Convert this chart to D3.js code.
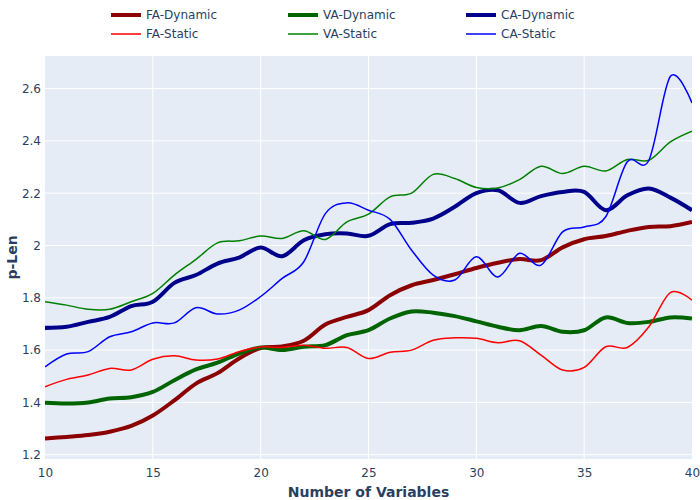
<!DOCTYPE html>
<html lang="en">
  <head>
    <meta charset="UTF-8" />
    <title>p-Len</title>
    <script src="https://cdn.jsdelivr.net/npm/d3@7"></script>
    <style>
      body { margin: 0; background: #fff; }
      text { font-family: "DejaVu Sans", Verdana, sans-serif; }
    </style>
  </head>
  <body>
    <svg width="700" height="500"></svg>
  </body>

  <script>
    var variables = d3.range(10, 41); // 10 .. 40
    var xTicks = [10, 15, 20, 25, 30, 35, 40];
    var yTicks = [1.2, 1.4, 1.6, 1.8, 2.0, 2.2, 2.4, 2.6];

    var faDynamic = [1.262, 1.268, 1.275, 1.288, 1.31, 1.35, 1.408, 1.472, 1.512, 1.568, 1.608,
      1.614, 1.636, 1.698, 1.727, 1.753, 1.81, 1.848, 1.868, 1.89, 1.914,
      1.934, 1.948, 1.944, 1.993, 2.024, 2.036, 2.056, 2.071, 2.074, 2.09];
    var vaDynamic = [1.399, 1.396, 1.4, 1.415, 1.42, 1.44, 1.485, 1.526, 1.552, 1.587, 1.61,
      1.6, 1.613, 1.619, 1.657, 1.676, 1.721, 1.748, 1.743, 1.73, 1.71,
      1.689, 1.676, 1.692, 1.67, 1.676, 1.725, 1.704, 1.708, 1.725, 1.721];
    var caDynamic = [1.685, 1.689, 1.708, 1.727, 1.768, 1.785, 1.857, 1.887, 1.931, 1.954, 1.992,
      1.959, 2.02, 2.043, 2.046, 2.037, 2.082, 2.087, 2.103, 2.148, 2.2,
      2.211, 2.163, 2.189, 2.205, 2.205, 2.135, 2.192, 2.218, 2.183, 2.135];
    var faStatic = [1.46, 1.488, 1.505, 1.53, 1.524, 1.565, 1.578, 1.562, 1.566, 1.594, 1.612,
      1.61, 1.619, 1.607, 1.61, 1.568, 1.592, 1.6, 1.638, 1.647, 1.645,
      1.628, 1.636, 1.581, 1.524, 1.534, 1.613, 1.61, 1.689, 1.82, 1.791];
    var vaStatic = [1.785, 1.772, 1.756, 1.756, 1.785, 1.817, 1.887, 1.947, 2.01, 2.018, 2.036,
      2.027, 2.056, 2.023, 2.09, 2.12, 2.186, 2.2, 2.272, 2.256, 2.222,
      2.22, 2.252, 2.303, 2.275, 2.303, 2.285, 2.329, 2.326, 2.396, 2.437];
    var caStatic = [1.536, 1.585, 1.594, 1.651, 1.67, 1.704, 1.704, 1.762, 1.738, 1.753, 1.805,
      1.874, 1.938, 2.122, 2.163, 2.135, 2.1, 1.982, 1.887, 1.868, 1.957,
      1.88, 1.97, 1.925, 2.052, 2.071, 2.11, 2.32, 2.326, 2.647, 2.545];

    var seriesNames = ['FA-Dynamic', 'VA-Dynamic', 'CA-Dynamic', 'FA-Static', 'VA-Static', 'CA-Static'];
    var seriesValues = [faDynamic, vaDynamic, caDynamic, faStatic, vaStatic, caStatic];
    var seriesColors = ['#8b0000', '#006400', '#00008b', '#ff0000', '#008000', '#0000ff'];
    var seriesWidths = [4, 4, 4, 1.5, 1.5, 1.5];

    var svg = d3.select('svg');
    // plot area (window.top is reserved, so use own names)
    var plotL = 45, plotR = 692, plotT = 56, plotB = 459;

    var x = d3.scaleLinear().domain([10, 40]).range([plotL, plotR]);
    var y = d3.scaleLinear().domain([1.1836, 2.7246]).range([plotB, plotT]);

    // plot background
    svg.append('rect')
      .attr('x', plotL).attr('y', plotT)
      .attr('width', plotR - plotL).attr('height', plotB - plotT)
      .attr('fill', '#e5ecf6');

    // grid
    var grid = svg.append('g');
    grid.selectAll('.gx').data(xTicks.slice(1, -1)).enter().append('line')
      .attr('x1', function (d) { return x(d); }).attr('x2', function (d) { return x(d); })
      .attr('y1', plotT).attr('y2', plotB)
      .attr('stroke', '#fff').attr('stroke-width', 1);
    grid.selectAll('.gy').data(yTicks).enter().append('line')
      .attr('x1', plotL).attr('x2', plotR)
      .attr('y1', function (d) { return y(d); }).attr('y2', function (d) { return y(d); })
      .attr('stroke', '#fff').attr('stroke-width', 1);

    // axes
    var axisX = d3.axisBottom(x).tickValues(xTicks).tickSize(0).tickPadding(9).tickFormat(d3.format('d'));
    var axisY = d3.axisLeft(y).tickValues(yTicks).tickSize(0).tickPadding(4).tickFormat(function (d) {
      return d3.format('.1f')(d).replace(/\.0$/, '');
    });
    var gx = svg.append('g').attr('transform', 'translate(0,' + plotB + ')').call(axisX);
    var gy = svg.append('g').attr('transform', 'translate(' + plotL + ',0)').call(axisY);
    [gx, gy].forEach(function (g) {
      g.select('.domain').remove();
      g.selectAll('text').attr('fill', '#2a3f5f').style('font-size', '12px')
        .style('font-family', '"DejaVu Sans", Verdana, sans-serif');
    });

    // lines
    svg.append('clipPath').attr('id', 'clip').append('rect')
      .attr('x', plotL).attr('y', plotT).attr('width', plotR - plotL).attr('height', plotB - plotT);
    var line = d3.line()
      .x(function (d, i) { return x(variables[i]); })
      .y(function (d) { return y(d); })
      .curve(d3.curveCardinal.tension(0));
    var lines = svg.append('g').attr('clip-path', 'url(#clip)');
    seriesValues.forEach(function (vals, k) {
      lines.append('path')
        .attr('d', line(vals))
        .attr('fill', 'none')
        .attr('stroke', seriesColors[k])
        .attr('stroke-width', seriesWidths[k])
        .attr('stroke-linejoin', 'round');
    });

    // legend
    var legendX = [111, 288, 466];
    var legendY = [15, 34];
    var legend = svg.append('g');
    seriesNames.forEach(function (name, k) {
      var lx = legendX[k % 3], ly = legendY[Math.floor(k / 3)];
      legend.append('line')
        .attr('x1', lx).attr('x2', lx + 30)
        .attr('y1', ly).attr('y2', ly)
        .attr('stroke', seriesColors[k]).attr('stroke-width', seriesWidths[k]);
      legend.append('text')
        .attr('x', lx + 35).attr('y', ly)
        .attr('dy', '0.35em')
        .attr('fill', '#2a3f5f')
        .style('font-size', '12px')
        .text(name);
    });

    // axis titles
    svg.append('text')
      .attr('x', (plotL + plotR) / 2).attr('y', 492)
      .attr('dy', '0.35em')
      .attr('text-anchor', 'middle')
      .attr('fill', '#2a3f5f')
      .style('font-size', '14px').style('font-weight', 'bold')
      .text('Number of Variables');
    svg.append('text')
      .attr('transform', 'translate(12,' + (plotT + plotB) / 2 + ') rotate(-90)')
      .attr('dy', '0.35em')
      .attr('text-anchor', 'middle')
      .attr('fill', '#2a3f5f')
      .style('font-size', '14px').style('font-weight', 'bold')
      .text('p-Len');
  </script>
</html>
